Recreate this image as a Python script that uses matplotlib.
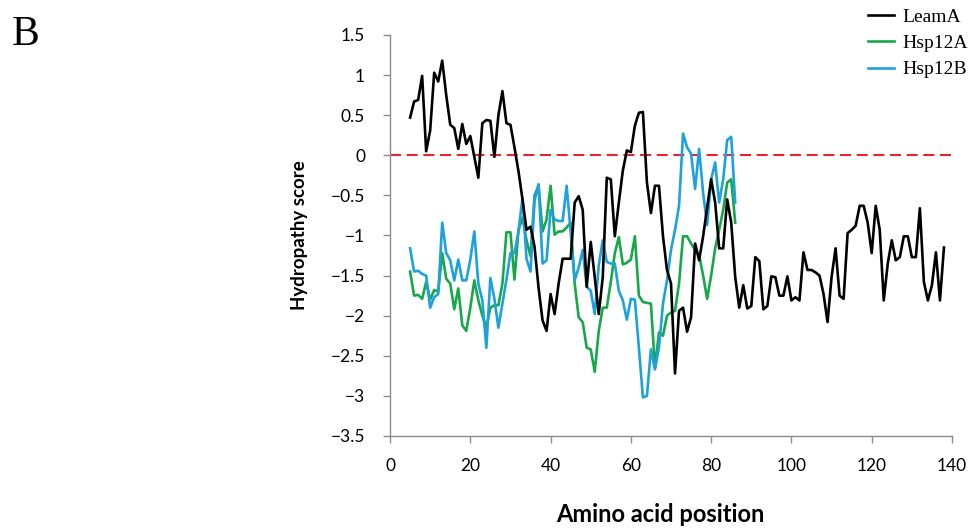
import matplotlib.pyplot as plt
import numpy as np

plt.rcParams["font.family"] = ["Lato", "DejaVu Sans"]

# hydropathy scores (sliding window), one value per residue position
leama_start = 5
leama = [
    0.47, 0.67, 0.69, 0.99, 0.05, 0.31, 1.03, 0.92, 1.18, 0.75,
    0.38, 0.34, 0.08, 0.39, 0.14, 0.24, -0.02, -0.28, 0.40, 0.44,
    0.43, -0.02, 0.50, 0.80, 0.40, 0.38, 0.10, -0.20, -0.55, -0.93,
    -0.89, -1.14, -1.65, -2.06, -2.19, -1.73, -1.98, -1.60, -1.29, -1.29,
    -1.29, -0.59, -0.51, -0.68, -1.64, -1.08, -1.52, -1.98, -1.52, -0.28,
    -0.30, -1.01, -0.59, -0.19, 0.06, 0.04, 0.37, 0.53, 0.54, -0.34,
    -0.72, -0.38, -0.38, -1.01, -1.43, -1.60, -2.72, -1.94, -1.90, -2.20,
    -2.02, -1.10, -1.31, -1.01, -0.65, -0.30, -0.59, -1.16, -1.16, -0.55,
    -0.84, -1.52, -1.90, -1.62, -1.91, -1.88, -1.27, -1.32, -1.92, -1.88,
    -1.51, -1.52, -1.75, -1.75, -1.51, -1.81, -1.77, -1.81, -1.21, -1.43,
    -1.43, -1.46, -1.50, -1.73, -2.08, -1.52, -1.16, -1.75, -1.79, -0.97,
    -0.93, -0.88, -0.63, -0.63, -0.84, -1.22, -0.63, -0.93, -1.81, -1.35,
    -1.06, -1.31, -1.27, -1.01, -1.01, -1.27, -1.27, -0.66, -1.58, -1.81,
    -1.62, -1.21, -1.81, -1.15,
]

hsp12a_start = 5
hsp12a = [
    -1.45, -1.75, -1.74, -1.79, -1.58, -1.80, -1.68, -1.70, -1.22, -1.54,
    -1.60, -1.92, -1.66, -2.12, -2.19, -1.90, -1.56, -1.81, -2.00, -2.15,
    -1.90, -1.87, -1.87, -1.60, -0.96, -0.96, -1.55, -0.93, -0.78, -1.06,
    -1.26, -0.50, -0.38, -0.95, -0.80, -0.38, -0.99, -0.95, -0.95, -0.90,
    -0.84, -1.60, -2.02, -2.08, -2.40, -2.42, -2.70, -2.19, -1.90, -1.90,
    -1.58, -1.22, -1.02, -1.36, -1.34, -1.30, -1.01, -1.75, -1.83, -1.84,
    -1.85, -2.65, -2.21, -2.25, -2.00, -1.96, -1.94, -1.60, -1.01, -1.01,
    -1.10, -1.18, -1.24, -1.50, -1.79, -1.50, -1.16, -0.93, -0.68, -0.34,
    -0.30, -0.84,
]

hsp12b_start = 5
hsp12b = [
    -1.16, -1.45, -1.44, -1.48, -1.50, -1.90, -1.77, -1.73, -0.84, -1.22,
    -1.31, -1.56, -1.30, -1.56, -1.56, -1.30, -0.95, -1.60, -1.81, -2.40,
    -1.53, -1.79, -2.15, -1.85, -1.55, -1.22, -1.22, -0.95, -0.53, -1.29,
    -1.45, -0.57, -0.36, -1.35, -1.31, -0.68, -0.80, -0.82, -0.82, -0.38,
    -0.95, -1.56, -1.40, -1.18, -1.64, -1.69, -1.98, -1.37, -1.06, -1.33,
    -1.35, -1.35, -1.69, -1.81, -2.05, -1.79, -1.80, -2.40, -3.02, -3.00,
    -2.42, -2.67, -2.40, -1.85, -1.56, -1.18, -0.93, -0.63, 0.27, 0.10,
    0.02, -0.42, 0.08, -0.47, -0.87, -0.30, -0.09, -0.59, -0.30, 0.19,
    0.23, -0.59,
]

yticks = [-3.5, -3, -2.5, -2, -1.5, -1, -0.5, 0, 0.5, 1, 1.5]
xticks = [0, 20, 40, 60, 80, 100, 120, 140]

x_leama = np.arange(leama_start, leama_start + len(leama))
x_a = np.arange(hsp12a_start, hsp12a_start + len(hsp12a))
x_b = np.arange(hsp12b_start, hsp12b_start + len(hsp12b))

fig = plt.figure(figsize=(9.79, 5.30), dpi=100)
ax = fig.add_axes([0.3984, 0.1774, 0.574, 0.7566])

ax.axhline(0, color="#e8232b", lw=1.5, ls=(0, (5.3, 2.7)), zorder=1)
ax.plot(x_leama, leama, color="black", lw=1.9, label="LeamA", zorder=3)
ax.plot(x_a, hsp12a, color="#17a84b", lw=1.9, label="Hsp12A", zorder=2)
ax.plot(x_b, hsp12b, color="#1ea2dd", lw=1.9, label="Hsp12B", zorder=2)

ax.set_xlim(0, 140)
ax.set_ylim(-3.5, 1.5)
ax.set_xticks(xticks)
ax.set_yticks(yticks)
ax.set_yticklabels([("%g" % v).replace("-", "\u2212") for v in yticks])

for s in ["top", "right"]:
    ax.spines[s].set_visible(False)
for s in ["left", "bottom"]:
    ax.spines[s].set_color("#8c8c8c")
    ax.spines[s].set_linewidth(1.0)
ax.tick_params(colors="#8c8c8c", length=5, width=1.0, labelsize=12.5,
               labelcolor="black")
ax.tick_params(axis="y", pad=13)
ax.tick_params(axis="x", pad=11)

ax.set_ylabel("Hydropathy score", fontsize=13.5, fontweight="bold", labelpad=16)
fig.text(660 / 979, 1 - 515 / 530, "Amino acid position", fontsize=17,
         fontweight="bold", ha="center", va="center")

leg = ax.legend(loc="upper left", bbox_to_anchor=(868 / 979, 1 - 8 / 530),
                bbox_transform=fig.transFigure, frameon=False,
                borderpad=0, borderaxespad=0,
                prop={"family": "Liberation Serif", "size": 14},
                handlelength=1.35, handletextpad=0.4, labelspacing=0.45)

fig.text(0.012, 0.915, "B", family="Liberation Serif", fontsize=30)

plt.savefig("out.png", dpi=100)
